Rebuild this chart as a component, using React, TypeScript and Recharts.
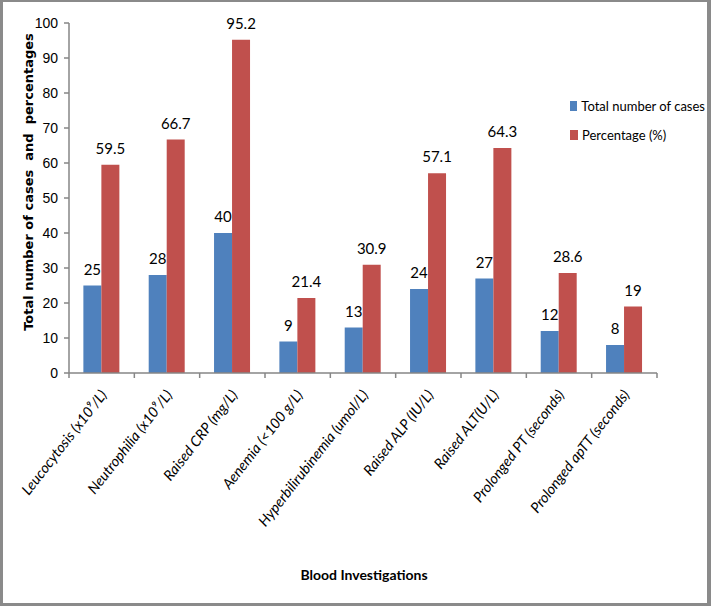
import React from 'react';
import { BarChart, Bar, XAxis, YAxis, Legend, LabelList, Label } from 'recharts';

// categories
const categories = [
  'Leucocytosis (x10⁹/L)',
  'Neutrophilia (x10⁹/L)',
  'Raised CRP (mg/L)',
  'Aenemia (<100 g/L)',
  'Hyperbilirubinemia (umol/L)',
  'Raised ALP (IU/L)',
  'Raised ALT(U/L)',
  'Prolonged PT (seconds)',
  'Prolonged apTT (seconds)',
];

const seriesNames = ['Total number of cases', 'Percentage (%)'];
const totalCases = [25, 28, 40, 9, 13, 24, 27, 12, 8];
const percentages = [59.5, 66.7, 95.2, 21.4, 30.9, 57.1, 64.3, 28.6, 19];

const yTicks = [0, 10, 20, 30, 40, 50, 60, 70, 80, 90, 100];

const chartData = categories.map((name, i) => ({
  name,
  total: totalCases[i],
  pct: percentages[i],
}));

const BLUE = '#4F81BD';
const RED = '#C0504D';
const AXIS = '#868686';
const FONT = "Lato, 'Open Sans', sans-serif";

const CategoryTick = (props: any) => {
  const { x, y, payload, index, visibleTicksCount } = props;
  const half = payload && payload.offset ? payload.offset : 588 / 9 / 2;
  const isLast = index === (visibleTicksCount ?? categories.length) - 1;
  return (
    <g>
      <line x1={x - half} y1={y} x2={x - half} y2={y + 5} stroke={AXIS} strokeWidth={1.5} />
      {isLast && <line x1={x + half} y1={y} x2={x + half} y2={y + 5} stroke={AXIS} strokeWidth={1.5} />}
      <text
        x={x + 6}
        y={y + 22}
        textAnchor="end"
        transform={`rotate(-52 ${x + 6} ${y + 22})`}
        fontFamily={FONT}
        fontStyle="italic"
        fontSize={14.5}
        fill="#000"
      >
        {payload.value}
      </text>
    </g>
  );
};

const renderLegend = (props: any) => {
  const payload = [...(props.payload || [])].sort(
    (a: any, b: any) => seriesNames.indexOf(a.value) - seriesNames.indexOf(b.value)
  );
  return (
    <div style={{ fontFamily: FONT, fontSize: 13, color: '#000', whiteSpace: 'nowrap' }}>
      {payload.map((entry: any) => (
        <div key={entry.value} style={{ display: 'flex', alignItems: 'center', height: 29 }}>
          <span style={{ display: 'inline-block', width: 8, height: 10, background: entry.color, marginRight: 4 }} />
          <span>{entry.value}</span>
        </div>
      ))}
    </div>
  );
};

export default function App() {
  return (
    <div style={{ position: 'absolute', left: 0, top: 0, width: 711, height: 606, background: '#fff' }}>
      <BarChart
        width={711}
        height={606}
        data={chartData}
        margin={{ top: 23, right: 54, left: 0, bottom: 0 }}
        barCategoryGap="22%"
        barGap={0}
      >
        <XAxis
          dataKey="name"
          height={233}
          interval={0}
          tickLine={false}
          tickSize={0}
          tickMargin={0}
          axisLine={{ stroke: AXIS, strokeWidth: 1.5 }}
          tick={<CategoryTick />}
        >
          <Label
            content={() => (
              <text x={364} y={580} textAnchor="middle" fontFamily={FONT} fontWeight="bold" fontSize={14} fill="#000">
                Blood Investigations
              </text>
            )}
          />
        </XAxis>
        <YAxis
          width={69}
          domain={[0, 100]}
          ticks={yTicks}
          interval={0}
          tickSize={5}
          tickMargin={6}
          axisLine={{ stroke: AXIS, strokeWidth: 1.5 }}
          tickLine={{ stroke: AXIS, strokeWidth: 1.5 }}
          tick={{ fill: '#000', fontSize: 14, fontFamily: "'Liberation Sans', Arial, sans-serif" }}
        >
          <Label
            content={() => (
              <text
                x={33}
                y={182}
                textAnchor="middle"
                transform="rotate(-90 33 182)"
                fontFamily="'DejaVu Sans', Verdana, sans-serif"
                fontWeight="bold"
                fontSize={13}
                fill="#000"
                style={{ whiteSpace: 'pre' }}
              >
                {'Total number of cases  and  percentages'}
              </text>
            )}
          />
        </YAxis>
        <Legend
          layout="horizontal"
          verticalAlign="middle"
          align="center"
          content={renderLegend}
          wrapperStyle={{ position: 'absolute', left: 570, top: 91, width: 135 }}
        />
        <Bar dataKey="total" name={seriesNames[0]} fill={BLUE} isAnimationActive={false}>
          <LabelList dataKey="total" position="top" offset={11} fill="#000" fontSize={15} fontFamily={FONT} />
        </Bar>
        <Bar dataKey="pct" name={seriesNames[1]} fill={RED} isAnimationActive={false}>
          <LabelList dataKey="pct" position="top" offset={11} fill="#000" fontSize={15} fontFamily={FONT} />
        </Bar>
      </BarChart>
      <div
        style={{
          position: 'absolute',
          inset: 0,
          borderStyle: 'solid',
          borderColor: '#8a8a8a',
          borderWidth: '2px 4px 3px 3px',
          boxSizing: 'border-box',
          pointerEvents: 'none',
        }}
      />
    </div>
  );
}
